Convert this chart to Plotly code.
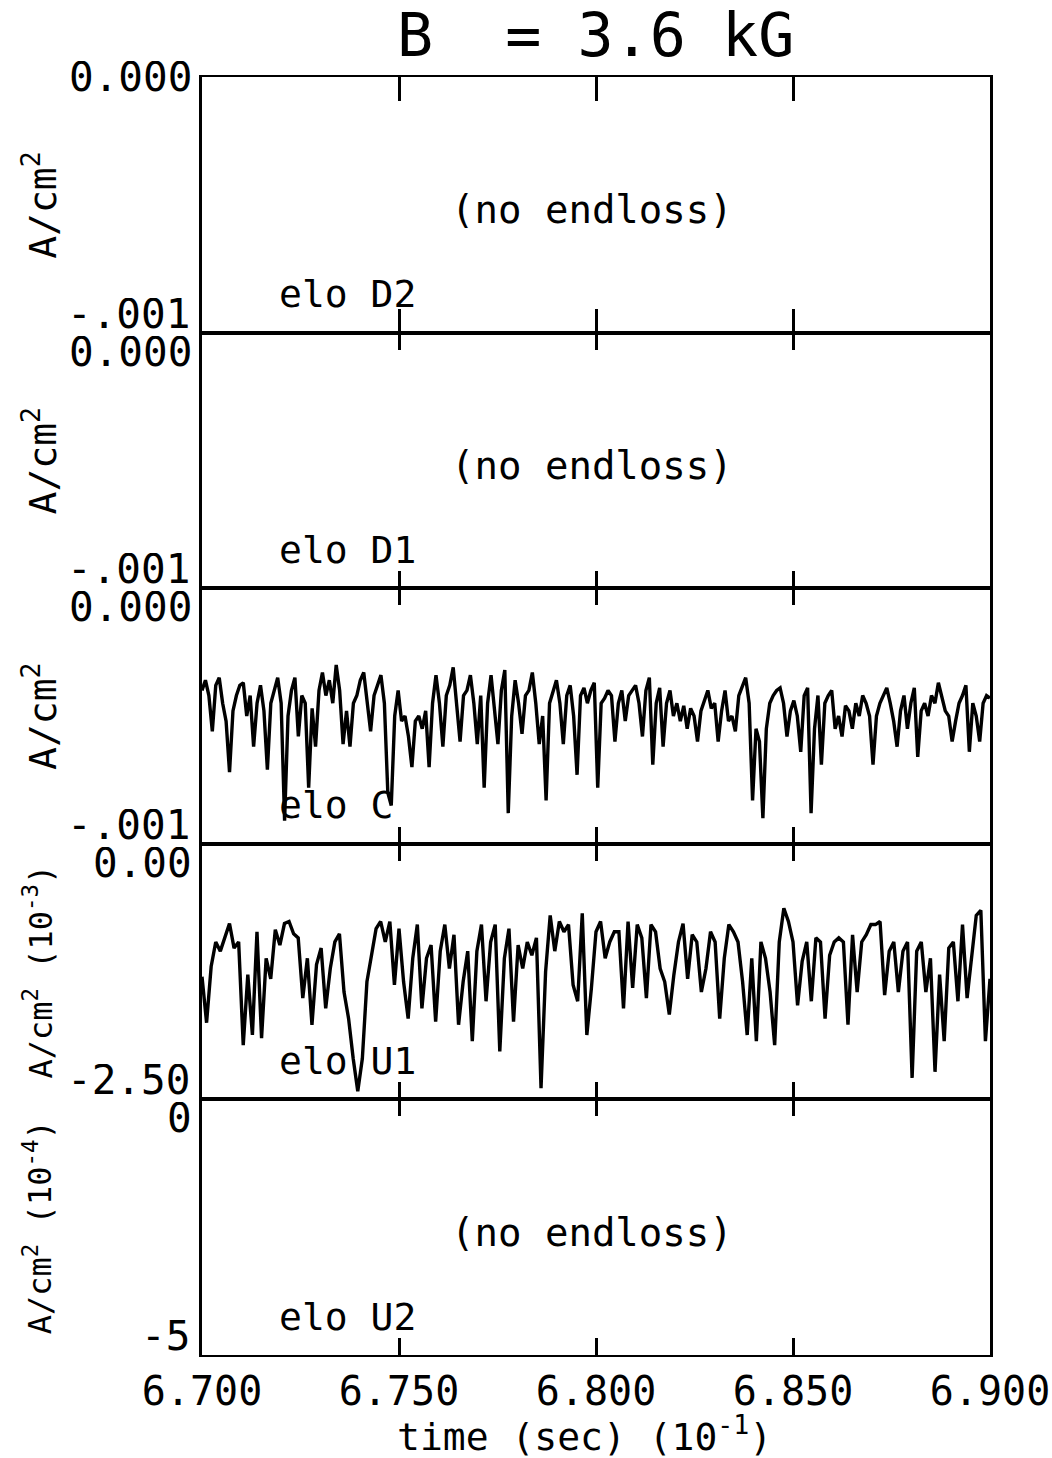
import numpy as np
import plotly.graph_objects as go
from plotly.subplots import make_subplots

# ---------------- data ----------------
T_START, T_END = 6.700, 6.900
x_tick_vals = [6.700, 6.750, 6.800, 6.850, 6.900]
x_tick_text = ["6.700", "6.750", "6.800", "6.850", "6.900"]

panel_names = ["elo D2", "elo D1", "elo C", "elo U1", "elo U2"]
panel_has_signal = [False, False, True, True, False]
y_ranges = [[-0.001, 0.0], [-0.001, 0.0], [-0.001, 0.0], [-2.5, 0.0], [-5.0, 0.0]]
y_top_labels = ["0.000", "0.000", "0.000", "0.00", "0"]
y_bottom_labels = ["-.001", "-.001", "-.001", "-2.50", "-5"]
y_titles = ["A/cm<sup>2</sup>", "A/cm<sup>2</sup>", "A/cm<sup>2</sup>",
            "A/cm<sup>2</sup> (10<sup>-3</sup>)", "A/cm<sup>2</sup> (10<sup>-4</sup>)"]

# elo C, in units of 1e-3 A/cm^2 (plotted in A/cm^2)
elo_C = [
    -0.40, -0.36, -0.42, -0.56, -0.38, -0.35, -0.45, -0.52, -0.72, -0.48,
    -0.42, -0.38, -0.37, -0.50, -0.42, -0.62, -0.45, -0.38, -0.48, -0.71,
    -0.45, -0.40, -0.35, -0.45, -0.91, -0.50, -0.40, -0.35, -0.58, -0.42,
    -0.45, -0.78, -0.47, -0.62, -0.40, -0.33, -0.42, -0.36, -0.45, -0.30,
    -0.40, -0.61, -0.48, -0.62, -0.45, -0.42, -0.36, -0.33, -0.45, -0.56,
    -0.42, -0.38, -0.34, -0.45, -0.80, -0.85, -0.50, -0.40, -0.52, -0.50,
    -0.58, -0.70, -0.52, -0.50, -0.55, -0.48, -0.70, -0.45, -0.34, -0.45,
    -0.62, -0.42, -0.38, -0.31, -0.45, -0.60, -0.42, -0.40, -0.34, -0.45,
    -0.61, -0.42, -0.78, -0.45, -0.34, -0.48, -0.61, -0.40, -0.32, -0.88,
    -0.50, -0.36, -0.45, -0.57, -0.42, -0.40, -0.33, -0.45, -0.61, -0.50,
    -0.83, -0.45, -0.40, -0.36, -0.45, -0.61, -0.42, -0.38, -0.50, -0.73,
    -0.42, -0.39, -0.45, -0.40, -0.37, -0.78, -0.45, -0.43, -0.40,
    -0.42, -0.60, -0.45, -0.40, -0.52, -0.42, -0.40, -0.38, -0.45, -0.58,
    -0.40, -0.35, -0.69, -0.45, -0.39, -0.62, -0.45, -0.40, -0.50, -0.45,
    -0.52, -0.46, -0.55, -0.47, -0.50, -0.60, -0.48, -0.44, -0.40, -0.47,
    -0.45, -0.60, -0.48, -0.40, -0.52, -0.50, -0.56, -0.42, -0.38, -0.35,
    -0.45, -0.83, -0.55, -0.60, -0.90, -0.55, -0.45, -0.42, -0.40, -0.39,
    -0.45, -0.58, -0.48, -0.44, -0.50, -0.64, -0.42, -0.39, -0.88, -0.55,
    -0.42, -0.69, -0.45, -0.42, -0.40, -0.55, -0.50, -0.58, -0.46, -0.48,
    -0.55, -0.45, -0.50, -0.42, -0.45, -0.50, -0.69, -0.50, -0.45, -0.42,
    -0.39, -0.45, -0.52, -0.62, -0.48, -0.42, -0.55, -0.45, -0.39, -0.66,
    -0.48, -0.45, -0.50, -0.42, -0.45, -0.37, -0.42, -0.48, -0.50, -0.60,
    -0.52, -0.45, -0.42, -0.38, -0.64, -0.45, -0.50, -0.60, -0.45, -0.42,
    -0.43,
]
C_SCALE = 1e-3

# elo U1, in units of 1e-3 A/cm^2 (axis labelled 10^-3)
elo_U1 = [
    -1.30, -1.75, -1.20, -0.96, -1.05, -0.92, -0.78, -1.02, -0.96, -1.97,
    -1.28, -1.87, -0.86, -1.90, -1.12, -1.32, -0.84, -0.99, -0.78, -0.76,
    -0.88, -0.92, -1.51, -1.12, -1.77, -1.18, -1.02, -1.61, -1.22, -0.96,
    -0.88, -1.45, -1.71, -2.10, -2.42, -2.10, -1.35, -1.09, -0.83, -0.76,
    -0.96, -0.76, -1.38, -0.83, -1.35, -1.71, -1.12, -0.79, -1.61, -1.12,
    -0.99, -1.74, -1.05, -0.79, -1.22, -0.89, -1.77, -1.35, -1.05, -1.93,
    -1.05, -0.79, -1.54, -0.96, -0.79, -2.03, -1.12, -0.83, -1.74, -0.99,
    -1.22, -0.96, -1.09, -0.92, -2.39, -1.25, -0.70, -1.05, -0.76, -0.86,
    -0.79, -1.38, -1.54, -0.68, -1.87, -1.41, -0.86, -0.76, -1.12, -0.96,
    -0.86, -0.86, -1.61, -0.76, -1.41, -0.79, -0.92, -1.51, -0.79, -0.86,
    -1.22, -1.35, -1.67, -1.28, -0.96, -0.78, -1.32, -0.89, -0.96, -1.45,
    -1.22, -0.86, -0.96, -1.71, -1.12, -0.79, -0.86, -0.96, -1.35, -1.87,
    -1.12, -1.93, -0.96, -1.12, -1.45, -1.97, -0.96, -0.63, -0.76, -0.96,
    -1.58, -1.15, -0.96, -1.54, -0.92, -0.96, -1.71, -1.09, -0.96, -0.92,
    -0.96, -1.77, -0.89, -1.45, -0.96, -0.89, -0.79, -0.79, -0.76, -1.48,
    -1.05, -0.96, -1.45, -1.05, -0.96, -2.29, -1.05, -0.96, -1.45, -1.12,
    -2.23, -1.28, -1.93, -1.02, -0.96, -1.54, -0.79, -1.51, -1.09, -0.70,
    -0.65, -1.93, -1.32,
]

# ---------------- figure ----------------
FONT = "DejaVu Sans Mono"
fig = make_subplots(rows=5, cols=1, shared_xaxes=True, vertical_spacing=0)

t_C = np.linspace(T_START, T_END, len(elo_C))
t_U1 = np.linspace(T_START, T_END, len(elo_U1))
signals = {3: (t_C, [v * C_SCALE for v in elo_C]), 4: (t_U1, elo_U1)}

for i in range(5):
    r = i + 1
    if r in signals:
        tx, ty = signals[r]
        fig.add_trace(go.Scatter(x=tx, y=ty, mode="lines",
                                 line=dict(color="black", width=3.4),
                                 showlegend=False, hoverinfo="skip"), row=r, col=1)
    else:
        # empty panel: invisible placeholder so the axes are drawn
        fig.add_trace(go.Scatter(x=[T_START, T_END], y=[None, None], mode="lines",
                                 line=dict(color="rgba(0,0,0,0)"), showlegend=False,
                                 hoverinfo="skip"), row=r, col=1)

for i in range(5):
    r = i + 1
    fig.update_xaxes(row=r, col=1, range=[T_START, T_END], showline=True, linecolor="black",
                     linewidth=2, mirror="ticks", ticks="inside",
                     ticklen=(24 if r == 1 else 17), tickwidth=2.5,
                     tickcolor="black", tickvals=x_tick_vals, ticktext=x_tick_text,
                     showgrid=False, zeroline=False, showticklabels=(r == 5),
                     automargin=False,
                     tickfont=dict(family=FONT, size=40, color="black"))
    fig.update_yaxes(row=r, col=1, range=y_ranges[i], showline=True, linecolor="black",
                     linewidth=2.5, mirror=True, ticks="", showticklabels=False,
                     showgrid=False, zeroline=False, automargin=False)

LABEL_BOX_H = 32
annotations = []
for i in range(5):
    yd = "y domain" if i == 0 else f"y{i+1} domain"
    xd = "x domain" if i == 0 else f"x{i+1} domain"
    annotations.append(dict(text=y_top_labels[i], xref="paper", x=0, xanchor="right", xshift=-8,
                            yref=yd, y=1, yanchor=("middle" if i == 0 else "top"),
                            yshift=(0 if i == 0 else -1), height=LABEL_BOX_H, valign="middle",
                            showarrow=False, font=dict(family=FONT, size=41, color="black")))
    annotations.append(dict(text=y_bottom_labels[i], xref="paper", x=0, xanchor="right", xshift=-10,
                            yref=yd, y=0, yanchor="bottom", yshift=1, height=LABEL_BOX_H,
                            valign="middle", showarrow=False,
                            font=dict(family=FONT, size=41, color="black")))
    annotations.append(dict(text=y_titles[i], xref="paper", x=0, xanchor="center",
                            xshift=(-162 if i < 3 else -164), yref=yd, y=0.5, textangle=-90,
                            showarrow=False,
                            font=dict(family=FONT, size=(38 if i < 3 else 32), color="black")))
    annotations.append(dict(text=panel_names[i], xref=xd, x=0.095, xanchor="left",
                            yref=yd, y=0.15, yanchor="middle", showarrow=False,
                            font=dict(family=FONT, size=38, color="black")))
    if not panel_has_signal[i]:
        annotations.append(dict(text="(no endloss)", xref=xd, x=0.495, xanchor="center",
                                yref=yd, y=0.48, yanchor="middle", showarrow=False,
                                font=dict(family=FONT, size=39, color="black")))

annotations.append(dict(text="B  = 3.6 kG", xref="paper", x=0.499, xanchor="center",
                        yref="paper", y=1, yanchor="middle", yshift=42, showarrow=False,
                        font=dict(family=FONT, size=60, color="black")))
annotations.append(dict(text="time (sec) (10<sup>-1</sup>)", xref="paper", x=0.486,
                        xanchor="center", yref="paper", y=0, yanchor="middle", yshift=-79,
                        showarrow=False, font=dict(family=FONT, size=38, color="black")))

fig.update_layout(width=1052, height=1458, autosize=False,
                  margin=dict(l=202, r=62, t=77, b=103, autoexpand=False),
                  paper_bgcolor="white", plot_bgcolor="white",
                  font=dict(family=FONT, color="black"),
                  annotations=annotations, showlegend=False)

fig.write_html("out.html")
